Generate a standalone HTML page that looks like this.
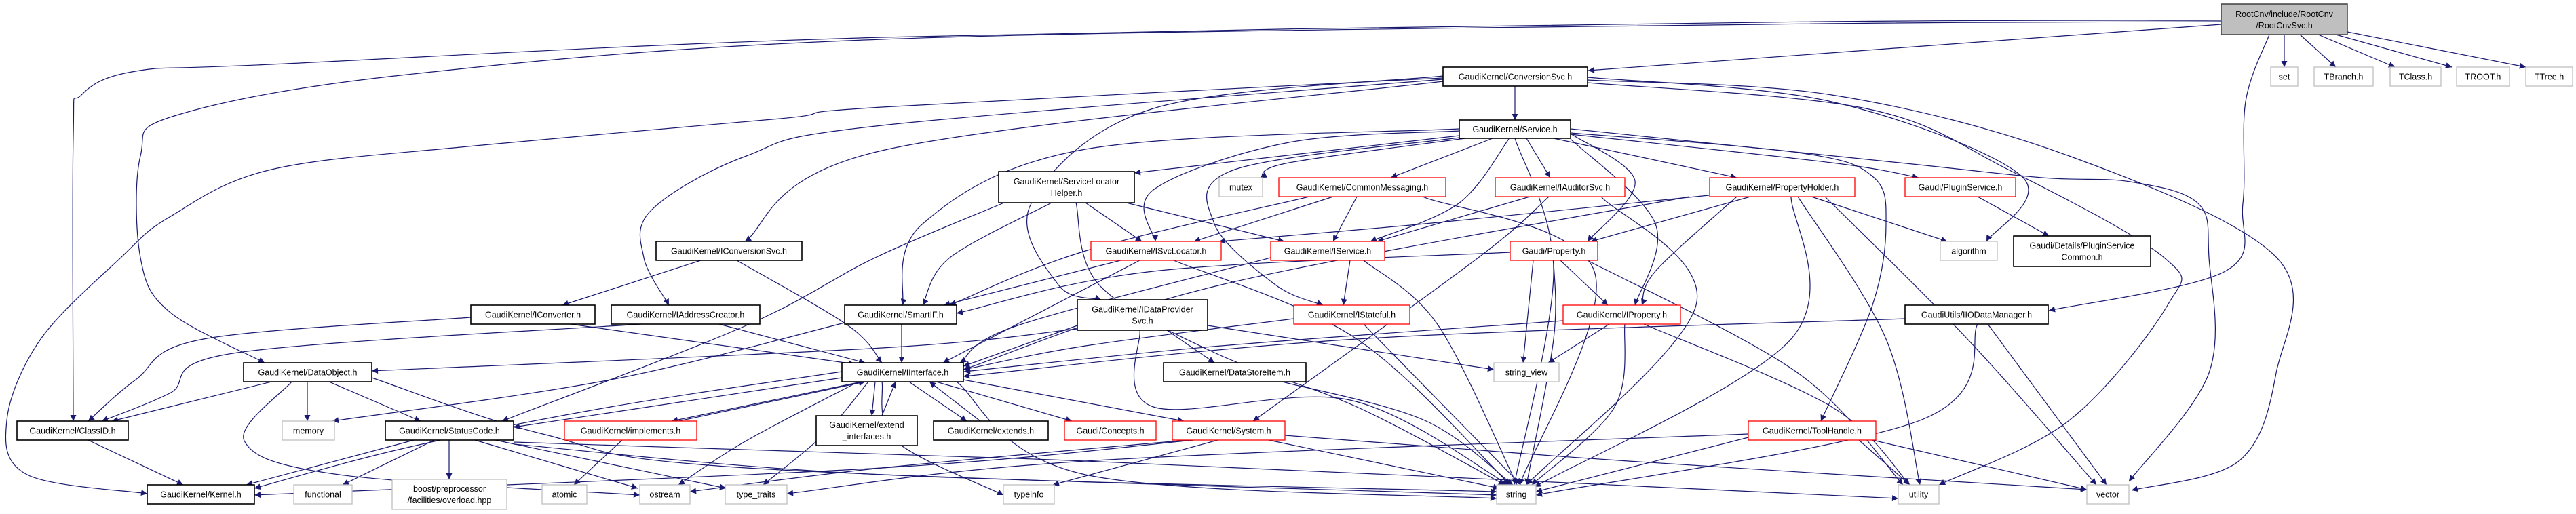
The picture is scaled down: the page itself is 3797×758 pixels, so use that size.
<!DOCTYPE html>
<html><head><meta charset="utf-8">
<style>
html,body{margin:0;padding:0;background:#fff;}
svg{display:block;}
text{font-family:"Liberation Sans",sans-serif;font-size:12.5px;fill:#000;}
</style></head>
<body>
<svg id="g" xmlns="http://www.w3.org/2000/svg" width="3797" height="758" viewBox="0 0 3797 758">
<defs>
<marker id="ah" viewBox="0 0 10 10" refX="10" refY="5" markerWidth="11" markerHeight="9" markerUnits="userSpaceOnUse" orient="auto">
<path d="M0,0 L10,5 L0,10 z" fill="#191970"/>
</marker>
</defs>
<g id="edges" fill="none" stroke="#191970" stroke-width="1.2"></g>
<g id="nodes">
<rect x="3274" y="6" width="186" height="45" fill="#bfbfbf" stroke="#404040" stroke-width="1.5"/>
<text x="3367" y="25" text-anchor="middle">RootCnv/include/RootCnv</text>
<text x="3367" y="42" text-anchor="middle">/RootCnvSvc.h</text>
</g>
</svg>
<script>
var NS="http://www.w3.org/2000/svg";
var N=[
["GaudiKernel/ConversionSvc.h",2127,99,213,28,"k"],
["GaudiKernel/Service.h",2151,177,164,27,"k"],
["GaudiKernel/ServiceLocator|Helper.h",1472,253,200,46,"k"],
["mutex",1797,262,64,28,"g"],
["GaudiKernel/CommonMessaging.h",1885,262,246,28,"r"],
["GaudiKernel/IAuditorSvc.h",2204,262,191,28,"r"],
["GaudiKernel/PropertyHolder.h",2520,262,214,28,"r"],
["Gaudi/PluginService.h",2808,262,163,28,"r"],
["GaudiKernel/ISvcLocator.h",1608,356,192,28,"r"],
["GaudiKernel/IService.h",1873,356,168,28,"r"],
["Gaudi/Property.h",2226,356,129,28,"r"],
["algorithm",2860,356,84,28,"g"],
["Gaudi/Details/PluginService|Common.h",2968,348,202,45,"k"],
["set",3347,99,40,28,"g"],
["TBranch.h",3411,99,87,28,"g"],
["TClass.h",3523,99,75,28,"g"],
["TROOT.h",3621,99,78,28,"g"],
["TTree.h",3723,99,69,28,"g"],
["GaudiKernel/IConversionSvc.h",967,356,215,28,"k"],
["GaudiKernel/IConverter.h",694,450,183,28,"k"],
["GaudiKernel/IAddressCreator.h",901,450,219,28,"k"],
["GaudiKernel/SmartIF.h",1245,450,165,28,"k"],
["GaudiKernel/IDataProvider|Svc.h",1588,442,192,45,"k"],
["GaudiKernel/IStateful.h",1907,450,171,28,"r"],
["GaudiKernel/IProperty.h",2304,450,173,28,"r"],
["GaudiUtils/IIODataManager.h",2808,450,211,28,"k"],
["GaudiKernel/DataObject.h",359,535,189,28,"k"],
["GaudiKernel/IInterface.h",1241,535,179,28,"k"],
["GaudiKernel/DataStoreItem.h",1715,535,210,28,"k"],
["string_view",2202,535,96,28,"g"],
["GaudiKernel/ClassID.h",25,621,164,28,"k"],
["memory",416,621,77,28,"g"],
["GaudiKernel/StatusCode.h",568,621,189,28,"k"],
["GaudiKernel/implements.h",832,621,195,28,"r"],
["GaudiKernel/extend|_interfaces.h",1203,613,149,44,"k"],
["GaudiKernel/extends.h",1376,621,169,28,"k"],
["Gaudi/Concepts.h",1569,621,135,28,"r"],
["GaudiKernel/System.h",1728,621,166,28,"r"],
["GaudiKernel/ToolHandle.h",2577,621,188,28,"r"],
["GaudiKernel/Kernel.h",217,715,158,28,"k"],
["functional",433,715,86,28,"g"],
["boost/preprocessor|/facilities/overload.hpp",578,707,169,44,"g"],
["atomic",799,715,66,28,"g"],
["ostream",943,715,74,28,"g"],
["type_traits",1069,715,91,28,"g"],
["typeinfo",1479,715,75,28,"g"],
["string",2206,715,58,28,"g"],
["utility",2798,715,60,28,"g"],
["vector",3076,715,62,28,"g"]
];
var E=[
[3274,36,2341,104],[3367,51,3367,99],[3390,51,3443,99],[3417,51,3530,99],[3443,51,3614,99],[3460,47,3723,99],
[3274,30,2600,33,1300,55,400,95,200,105,120,140,108,200,108,621],
[3274,32,2600,36,1300,58,600,110,260,170,207,230,207,380,250,460,390,535],
[3345,51,3310,150,3306,300,3280,400,3020,458],
[2340,118,2700,140,3050,230,3356,380,3355,550,3300,680,3142,723],
[2340,122,2750,160,2960,250,3190,380,3195,450,3050,620,2858,715],
[2340,114,2700,150,2980,260,2928,356],
[2315,190,2800,240,3010,262,3140,268,3240,300,3256,380,3256,550,3138,710],
[2315,196,2650,225,2760,260,2780,330,2760,450,2684,621],
[2233,127,2233,177],
[2127,115,1300,158,1150,175,700,215,400,250,250,320,178,380,60,500,10,620,40,700,217,728],
[2127,117,1300,185,1100,230,960,310,949,380,986,450],
[2127,120,1300,222,1098,356],
[2127,112,1700,160,1520,300,1560,420,1623,442],
[2151,200,1672,255],
[2160,204,1900,240,1858,262],
[2200,204,2050,262],[2250,204,2285,262],[2290,204,2560,262],
[2315,198,2700,240,2828,262],
[2151,193,1900,210,1700,280,1703,356],
[2224,205,2150,300,2020,356],
[2315,197,2410,267,2340,356],
[2315,205,2440,330,2410,450],
[2151,203,1820,250,1790,330,1880,420,1950,450],
[2151,190,1600,220,1360,330,1330,450],
[2233,204,2290,400,2232,715],
[1480,299,1290,380,1100,480,740,621],
[1600,299,1683,356],[1660,299,1893,356],
[1550,299,1400,380,1360,450],
[1586,299,1620,420,1790,520,2000,600,2218,715],
[1965,290,1760,356],[2000,290,1965,356],
[1930,290,1600,370,1400,450],
[2097,290,2350,400,2240,715],
[2255,290,2030,356],
[2283,290,2179,380,1847,621],
[2360,290,2500,450,2250,715],
[2519,288,2100,330,1797,356],
[2580,290,2345,356],[2560,290,2440,400,2420,450],[2670,290,2870,356],
[2650,290,2780,500,2830,715],[2690,290,2900,500,3090,715],[2640,290,2640,500,2262,718],
[2490,290,1800,420,1420,545],
[2915,290,3020,348],
[1652,384,1391,450],[1680,384,1390,535],[1730,384,2000,500,2226,715],
[1990,384,1980,450],[2010,384,2120,480,2236,715],[1873,380,1500,480,1415,535],
[2300,384,2370,450],[2226,372,1700,400,1410,462],[2260,384,2245,535],[2290,384,2290,500,2250,715],[2340,384,2650,550,2805,715],
[1907,470,1600,510,1421,545],[2010,478,2242,715],
[2304,473,1800,510,1421,548],[2372,478,2282,535],[2395,478,2380,600,2258,715],[2423,478,2700,600,2815,715],
[1329,478,1329,535],
[1245,476,900,560,490,621],
[1588,480,1420,540],[1720,487,1790,535],[1680,487,1700,600,1990,590,2224,715],[1780,480,2202,545],
[1588,485,1300,513,548,547],
[1890,563,2100,620,2230,715],
[1033,384,829,450],[1086,384,1250,480,1300,535],
[694,468,300,500,200,560,130,621],[841,478,1260,537],
[945,478,350,520,250,580,150,621],[1060,478,1275,535],
[400,563,165,621],[453,563,453,621],[485,563,620,621],
[430,563,360,650,500,700,943,730],[548,557,800,640,1100,690,2206,730],
[610,649,363,715],[640,649,505,715],[662,649,662,707],[700,649,940,720],[730,649,1070,720],
[757,655,1300,700,2206,725],[757,652,1600,680,2798,735],
[1241,557,757,630],[1241,548,900,600,600,660,375,720],[1270,563,990,621],[1290,563,1285,613],
[1340,563,1425,621],[1380,563,1580,621],[1420,560,1745,621],[1265,563,1100,650,1000,715],
[1280,563,1215,640,1125,715],[1300,563,1320,650,1479,730],[1410,563,1600,700,2206,735],
[1000,621,1275,563],[1300,613,1320,563],[1445,621,1370,563],
[917,649,846,715],
[1760,649,1300,690,375,730],[1795,649,1552,715],[1870,649,2210,720],[1894,642,2400,680,3076,722],
[1750,649,1300,690,1017,725],
[2740,649,2815,715],[2760,649,3076,722],[2577,645,2264,725],[2577,640,1600,680,1160,728],
[2915,478,2830,620,2264,730],[2930,478,3105,715],[2808,470,2000,500,1420,555],
[130,649,270,715]
];
function path(p){
  var pts=[];for(var i=0;i<p.length;i+=2)pts.push([p[i],p[i+1]]);
  var d="M"+pts[0][0]+","+pts[0][1];
  if(pts.length==2){
    var a=pts[0],b=pts[1],dy=(b[1]-a[1])/2,dx=(b[0]-a[0]);
    if(Math.abs(b[1]-a[1])<40){return d+" L"+b[0]+","+b[1];}
    return d+" L"+b[0]+","+b[1];
  }
  for(var i=0;i<pts.length-1;i++){
    var p0=pts[i-1]||pts[i],p1=pts[i],p2=pts[i+1],p3=pts[i+2]||pts[i+1];
    var c1=[p1[0]+(p2[0]-p0[0])/6,p1[1]+(p2[1]-p0[1])/6];
    var c2=[p2[0]-(p3[0]-p1[0])/6,p2[1]-(p3[1]-p1[1])/6];
    d+=" C"+c1[0].toFixed(1)+","+c1[1].toFixed(1)+" "+c2[0].toFixed(1)+","+c2[1].toFixed(1)+" "+p2[0]+","+p2[1];
  }
  return d;
}
var eg=document.getElementById("edges");
E.forEach(function(p){var e=document.createElementNS(NS,"path");e.setAttribute("d",path(p));e.setAttribute("marker-end","url(#ah)");eg.appendChild(e);});
var ng=document.getElementById("nodes");
var col={k:"#000000",r:"#ff0000",g:"#bfbfbf"};
N.forEach(function(n){
  var r=document.createElementNS(NS,"rect");
  r.setAttribute("x",n[1]);r.setAttribute("y",n[2]);r.setAttribute("width",n[3]);r.setAttribute("height",n[4]);
  r.setAttribute("fill","#fff");r.setAttribute("stroke",col[n[5]]);r.setAttribute("stroke-width",n[5]=="k"?"1.6":"1.3");
  ng.appendChild(r);
  var lines=n[0].split("|");
  lines.forEach(function(l,i){
    var t=document.createElementNS(NS,"text");
    t.setAttribute("x",n[1]+n[3]/2);t.setAttribute("text-anchor","middle");
    var cy=n[2]+n[4]/2+(lines.length==1?4.5:(i==0?-4:13));
    t.setAttribute("y",cy);t.textContent=l;ng.appendChild(t);
    var w=t.getComputedTextLength();
    if(w>n[3]-12){t.setAttribute("textLength",n[3]-12);t.setAttribute("lengthAdjust","spacingAndGlyphs");}
  });
});
</script>
</body></html>
